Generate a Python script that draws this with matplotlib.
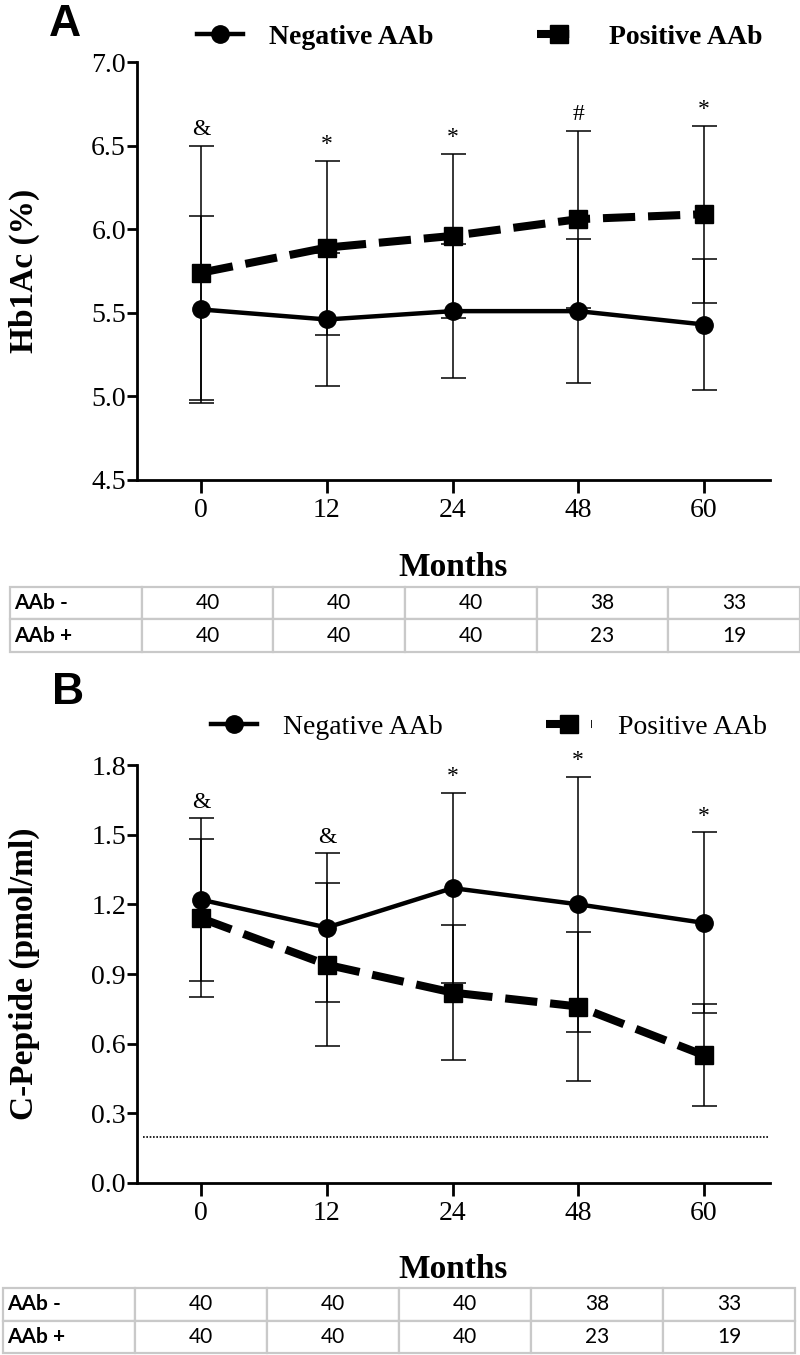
import numpy as np
import matplotlib.pyplot as plt

months = ['0', '12', '24', '48', '60']

# Hb1Ac (%) - mean and SD
hba_neg = [5.52, 5.46, 5.51, 5.51, 5.43]
hba_neg_sd = [0.56, 0.40, 0.40, 0.43, 0.39]
hba_pos = [5.74, 5.89, 5.96, 6.06, 6.09]
hba_pos_sd = [0.76, 0.52, 0.49, 0.53, 0.53]
hba_sig = ['&', '*', '*', '#', '*']

# C-Peptide (pmol/ml)
cp_neg = [1.22, 1.10, 1.27, 1.20, 1.12]
cp_neg_sd = [0.35, 0.32, 0.41, 0.55, 0.39]
cp_pos = [1.14, 0.94, 0.82, 0.76, 0.55]
cp_pos_sd = [0.34, 0.35, 0.29, 0.32, 0.22]
cp_sig = ['&', '&', '*', '*', '*']
cp_cutoff = 0.2

# patients per group
n_neg = [40, 40, 40, 38, 33]
n_pos = [40, 40, 40, 23, 19]
row_names = ['AAb -', 'AAb +']

SERIF = 'Liberation Serif'
W, H = 800, 1355


def fx(px):
    return px / W


def fy(px):
    return 1 - px / H


def panel(ax, neg, neg_sd, pos, pos_sd, sig, yticks, ylabel, legend_y, legend_bold):
    x = np.arange(len(months))
    for m, s in ((neg, neg_sd), (pos, pos_sd)):
        ax.errorbar(x, m, yerr=s, fmt='none', ecolor='black', elinewidth=1.1,
                    capsize=9, capthick=1.1, zorder=2)
    l1, = ax.plot(x, neg, color='black', lw=3.2, marker='o', ms=12.5,
                  label='Negative AAb', zorder=3)
    l2, = ax.plot(x, pos, color='black', lw=5.8, ls=(0, (4, 1.6)), marker='s', ms=12.5,
                  label='Positive AAb', zorder=3)

    tops = np.maximum(np.add(neg, neg_sd), np.add(pos, pos_sd))
    for xi, t, s in zip(x, tops, sig):
        ax.annotate(s, (xi, t), xytext=(0, 4), textcoords='offset points',
                    ha='center', va='bottom', fontsize=17, family=SERIF)

    ax.set_xlim(-0.51, 4.525)
    ax.set_ylim(yticks[0], yticks[-1])
    ax.set_xticks(x)
    ax.set_xticklabels(months)
    ax.set_yticks(yticks)
    ax.set_yticklabels(['%.1f' % v for v in yticks])
    for lab in ax.get_xticklabels() + ax.get_yticklabels():
        lab.set_family(SERIF)
        lab.set_fontsize(20)
    ax.tick_params(axis='x', length=9, width=2, pad=4)
    ax.tick_params(axis='y', length=7, width=2, pad=1)
    ax.spines[['top', 'right']].set_visible(False)
    ax.spines[['left', 'bottom']].set_linewidth(2)

    ax.set_ylabel(ylabel, fontsize=24, fontweight='bold', family=SERIF, va='center')
    ax.yaxis.set_label_coords((24 - 137) / 633, 0.5)
    ax.set_xlabel('Months', fontsize=24, fontweight='bold', family=SERIF, va='center')
    ax.xaxis.set_label_coords(0.5, -87 / 418)

    ax.legend(handles=[l1, l2], ncol=2, loc='center left',
              bbox_to_anchor=(fx(legend_y[0]), fy(legend_y[1])),
              bbox_transform=fig.transFigure, frameon=False,
              handlelength=1.65, handletextpad=0.95, columnspacing=3.7,
              borderpad=0, borderaxespad=0, numpoints=1,
              prop={'family': SERIF, 'size': 20,
                    'weight': 'bold' if legend_bold else 'normal'})


def counts_table(rect):
    tax = fig.add_axes(rect)
    tax.axis('off')
    cells = [[row_names[0]] + [str(v) for v in n_neg],
             [row_names[1]] + [str(v) for v in n_pos]]
    tb = tax.table(cellText=cells, cellLoc='center', bbox=[0, 0, 1, 1])
    tb.auto_set_font_size(False)
    for (r, c), cell in tb.get_celld().items():
        cell.set_edgecolor('#c9c9c9')
        cell.set_linewidth(1.6)
        cell.set_text_props(family='Lato', fontsize=15, color='black')
        if c == 0:
            cell.PAD = 0.03
            cell.set_text_props(ha='left', fontweight='bold')


fig = plt.figure(figsize=(8, 13.55), dpi=100)

axA = fig.add_axes([fx(137), fy(480), 633 / W, 418 / H])
panel(axA, hba_neg, hba_neg_sd, hba_pos, hba_pos_sd, hba_sig,
      np.arange(4.5, 7.01, 0.5), 'Hb1Ac (%)', (197, 37), True)
counts_table([fx(10), fy(652), 790 / W, 65 / H])

axB = fig.add_axes([fx(137), fy(1183), 633 / W, 418 / H])
panel(axB, cp_neg, cp_neg_sd, cp_pos, cp_pos_sd, cp_sig,
      np.arange(0, 1.81, 0.3), 'C-Peptide (pmol/ml)', (211, 727), False)
axB.axhline(cp_cutoff, xmin=0.01, xmax=0.997, color='black', lw=1.2, ls=(0, (1, 1)))
counts_table([fx(3), fy(1353), 792 / W, 65 / H])

fig.text(fx(65), fy(24), 'A', ha='center', va='center', fontsize=32,
         fontweight='bold', family='Liberation Sans')
fig.text(fx(68), fy(692), 'B', ha='center', va='center', fontsize=32,
         fontweight='bold', family='Liberation Sans')

fig.savefig('out.png', dpi=100)
